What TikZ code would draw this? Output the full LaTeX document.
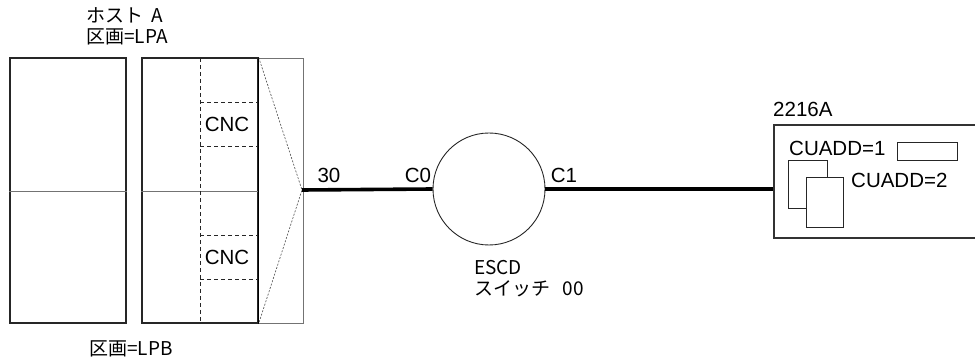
\documentclass[tikz,border=0pt]{standalone}
\usepackage{fontspec}
\setmainfont{Liberation Sans}
\newfontfamily\jpfont{Noto Sans CJK JP}
\begin{document}
\begin{tikzpicture}[x=1pt,y=-1pt,
  box/.style={draw=black!85, line width=1.3pt, minimum width=116pt, minimum height=265pt, inner sep=0pt},
  thinline/.style={draw=black!55, line width=0.9pt},
  dashline/.style={draw=black!85, line width=0.9pt, dash pattern=on 4pt off 3pt},
  dotline/.style={draw=black!70, line width=0.6pt, dash pattern=on 2pt off 1.5pt},
  link/.style={draw=black, line width=3.6pt},
  lab/.style={font=\fontsize{20.5}{24}\selectfont, inner sep=0pt},
  jlab/.style={font=\jpfont\fontsize{19}{22}\selectfont, inner sep=0pt, anchor=west}]
\useasboundingbox (0,0) rectangle (975,358);
% host A boxes
\node[box] (lpbox) at (68,190.5) {};
\node[box] (hostbox) at (200,190.5) {};
\draw[thinline] (258,58) rectangle (303,323);
\draw[thinline] (lpbox.west |- 0,191) -- (lpbox.east |- 0,191);
\draw[thinline] (hostbox.west |- 0,191) -- (hostbox.east |- 0,191);
\draw[dashline] (200,58) -- (200,323);
\draw[dashline] (200,102) -- (258,102);
\draw[dashline] (200,146) -- (258,146);
\draw[dashline] (200,235) -- (258,235);
\draw[dashline] (200,279) -- (258,279);
\node[lab] (cnc1) at (227,124.5) {CNC};
\node[lab] (cnc2) at (227,257.5) {CNC};
\draw[black, line width=1.6pt] (hostbox.north east) -- (hostbox.south east);
\coordinate (apex) at (302,190);
\draw[dotline] (hostbox.north east) -- (apex) -- (hostbox.south east);
% labels host
\node[jlab] (hosta) at (86,15) {ホスト\ \ A};
\node[jlab] (lpa) at (86,37) {区画=LPA};
\node[jlab] (lpb) at (89,349) {区画=LPB};
% switch
\node[draw=black!85, line width=0.9pt, circle, minimum size=112pt, inner sep=0pt] (sw) at (489,189) {};
\node[jlab] (escd) at (474,268) {ESCD};
\node[jlab] (swname) at (474,288.5) {スイッチ\ \ \ 00};
% control unit
\node[draw=black!80, line width=1.6pt, minimum width=212pt, minimum height=113pt, anchor=north west, inner sep=0pt] (cu) at (773,124) {};
\node[lab, anchor=west] (cuname) at (773,109) {2216A};
\node[lab, anchor=west] (cuadd1) at (789,148) {CUADD=1};
\node[draw=black!85, line width=0.9pt, minimum width=60pt, minimum height=18pt, inner sep=0pt] (cu1box) at (927,151) {};
\node[draw=black!85, line width=0.9pt, fill=white, minimum width=39pt, minimum height=48pt, inner sep=0pt] (page1) at (807.5,184) {};
\node[draw=black!85, line width=0.9pt, fill=white, minimum width=37pt, minimum height=50pt, inner sep=0pt] (page2) at (824.5,202) {};
\node[lab, anchor=west] (cuadd2) at (851,180) {CUADD=2};
% links
\draw[link] (apex) -- (sw.west);
\draw[link] (sw.east) -- (cu.west |- sw.east);
\node[lab] (p30) at (329,175) {30};
\node[lab] (c0) at (418,175) {C0};
\node[lab] (c1) at (564,175) {C1};
\end{tikzpicture}
\end{document}
